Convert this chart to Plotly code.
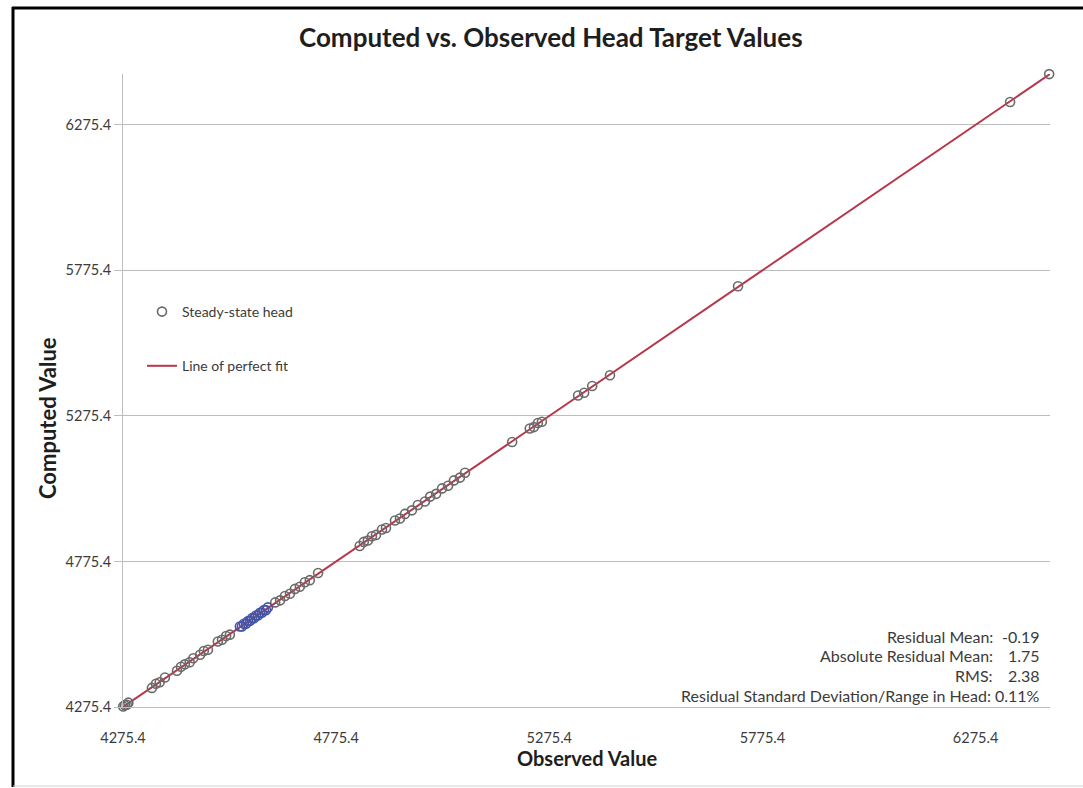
import plotly.graph_objects as go

# Steady-state head targets: observed vs. computed (ft)
observed = [
    4275.9, 4279.6, 4284.3, 4288.0, 4343.2, 4352.7, 4361.5, 4373.8,
    4402.1, 4411.4, 4420.6, 4431.9, 4440.3, 4456.2, 4465.0, 4474.7,
    4497.9, 4507.6, 4517.3, 4526.1, 4632.4, 4644.0, 4655.3, 4667.1,
    4678.8, 4690.2, 4702.0, 4713.6, 4733.1, 4830.7, 4840.2, 4849.8,
    4859.4, 4868.9, 4883.0, 4892.3, 4913.4, 4925.1, 4936.8, 4953.2,
    4967.0, 4983.7, 4996.1, 5010.0, 5023.8, 5037.9, 5051.6, 5065.9,
    5077.8, 5188.3, 5229.6, 5239.4, 5248.7, 5258.1, 5343.0, 5357.2,
    5376.1, 5417.8, 5718.2, 6356.4, 6448.1,
]
computed = [
    4277.2, 4281.8, 4283.1, 4290.4, 4341.0, 4355.3, 4360.2, 4376.9,
    4399.8, 4413.6, 4421.9, 4429.3, 4443.1, 4455.0, 4467.8, 4472.1,
    4500.3, 4506.2, 4519.5, 4524.0, 4634.8, 4641.7, 4656.9, 4664.6,
    4681.2, 4688.5, 4704.1, 4711.2, 4735.6, 4828.4, 4842.5, 4847.3,
    4861.9, 4866.7, 4885.2, 4890.1, 4916.0, 4922.8, 4938.7, 4951.0,
    4969.6, 4981.5, 4998.2, 5007.6, 5026.3, 5035.4, 5053.9, 5063.5,
    5080.1, 5185.7, 5232.2, 5237.0, 5250.9, 5255.6, 5345.4, 5354.9,
    5378.3, 5415.2, 5720.6, 6353.9, 6449.6,
]

# Highlighted cluster of targets
observed_hl = [
    4549.6, 4554.3, 4559.1, 4564.0, 4568.8, 4573.5, 4578.2, 4582.9,
    4587.4, 4592.0, 4596.8, 4601.3, 4606.0, 4610.7, 4615.2,
]
computed_hl = [
    4552.0, 4551.9, 4561.4, 4561.8, 4571.0, 4571.3, 4580.7, 4580.6,
    4589.8, 4589.5, 4599.1, 4599.0, 4608.4, 4608.2, 4617.6,
]

axis_min = 4275.4
axis_max = 6450.0
tick_values = [4275.4, 4775.4, 5275.4, 5775.4, 6275.4]

stat_labels = ["Residual Mean:", "Absolute Residual Mean:", "RMS:"]
stat_values = ["-0.19", "1.75", "2.38"]
stat_last = "Residual Standard Deviation/Range in Head: 0.11%"

FONT = "Lato"
TXT = "#3b3b3b"
GRID = "#bdbdbd"

fig = go.Figure()

fig.add_trace(go.Scatter(
    x=[axis_min, axis_max], y=[axis_min, axis_max],
    mode="lines", name="Line of perfect fit",
    line=dict(color="#b8364a", width=2),
    legendgroup="fit", legendrank=2,
))
fig.add_trace(go.Scatter(
    x=observed, y=computed, mode="markers", name="Steady-state head",
    marker=dict(symbol="circle-open", size=9, color="#6a6a6a",
                line=dict(width=1.6, color="#6a6a6a")),
    cliponaxis=False, legendgroup="head", legendrank=1,
))
fig.add_trace(go.Scatter(
    x=observed_hl, y=computed_hl, mode="markers", showlegend=False,
    marker=dict(symbol="circle-open", size=9, color="#4655a5",
                line=dict(width=1.6, color="#4655a5")),
    cliponaxis=False,
))

L, R, T, B = 123, 33, 74, 81
W, H = 1083, 788
pw, ph = W - L - R, H - T - B


def px_x(p):
    return (p - L) / pw


def px_y(q):
    return (H - B - q) / ph


annotations = [
    dict(text="<b>Computed vs. Observed Head Target Values</b>",
         xref="paper", yref="paper", x=px_x(551), y=px_y(37),
         xanchor="center", yanchor="middle", showarrow=False,
         font=dict(family=FONT, size=26, color="#1e1e1e")),
    dict(text="<b>Observed Value</b>",
         xref="paper", yref="paper", x=px_x(587), y=px_y(758),
         xanchor="center", yanchor="middle", showarrow=False,
         font=dict(family=FONT, size=20, color="#1e1e1e")),
    dict(text="<b>Computed Value</b>", textangle=-90,
         xref="paper", yref="paper", x=px_x(47), y=px_y(418),
         xanchor="center", yanchor="middle", showarrow=False,
         font=dict(family=FONT, size=22, color="#1e1e1e")),
]
stat_rows = [636, 655, 675]
for lab, val, row in zip(stat_labels, stat_values, stat_rows):
    annotations.append(dict(text=lab, xref="paper", yref="paper",
                            x=px_x(995), y=px_y(row), xanchor="right",
                            yanchor="middle", showarrow=False,
                            font=dict(family=FONT, size=16, color=TXT)))
    annotations.append(dict(text=val, xref="paper", yref="paper",
                            x=px_x(1042), y=px_y(row), xanchor="right",
                            yanchor="middle", showarrow=False,
                            font=dict(family=FONT, size=16, color=TXT)))
annotations.append(dict(text=stat_last, xref="paper", yref="paper",
                        x=px_x(1042), y=px_y(695), xanchor="right",
                        yanchor="middle", showarrow=False,
                        font=dict(family=FONT, size=16, color=TXT)))

shapes = [
    # chart frame
    dict(type="line", xref="paper", yref="paper",
         x0=px_x(13), x1=px_x(13), y0=px_y(7), y1=px_y(787),
         line=dict(color="black", width=3)),
    dict(type="line", xref="paper", yref="paper",
         x0=px_x(12), x1=px_x(1090), y0=px_y(8), y1=px_y(8),
         line=dict(color="black", width=3)),
    dict(type="line", xref="paper", yref="paper",
         x0=px_x(13), x1=px_x(1090), y0=px_y(786), y1=px_y(786),
         line=dict(color="#cfcfcf", width=1)),
]

fig.update_layout(
    width=W, height=H,
    margin=dict(l=L, r=R, t=T, b=B),
    paper_bgcolor="white", plot_bgcolor="white",
    font=dict(family=FONT, size=13, color=TXT),
    showlegend=True,
    legend=dict(x=px_x(142), y=px_y(296), xanchor="left", yanchor="top",
                bgcolor="rgba(0,0,0,0)", traceorder="grouped",
                tracegroupgap=33, font=dict(family=FONT, size=14, color=TXT)),
    annotations=annotations,
    shapes=shapes,
)
fig.update_xaxes(
    range=[axis_min, axis_max], tickvals=tick_values, tickformat=".1f",
    showgrid=False, zeroline=False, showline=True, linecolor=GRID,
    linewidth=1, ticks="", ticklabelstandoff=18,
    tickfont=dict(family=FONT, size=14.5, color=TXT),
)
fig.update_yaxes(
    range=[axis_min, axis_max], tickvals=tick_values, tickformat=".1f",
    showgrid=True, gridcolor=GRID, gridwidth=1, zeroline=False,
    showline=True, linecolor=GRID, linewidth=1,
    ticks="outside", ticklen=8, tickcolor=GRID,
    tickfont=dict(family=FONT, size=14.5, color=TXT),
)

fig.write_html("out.html")
